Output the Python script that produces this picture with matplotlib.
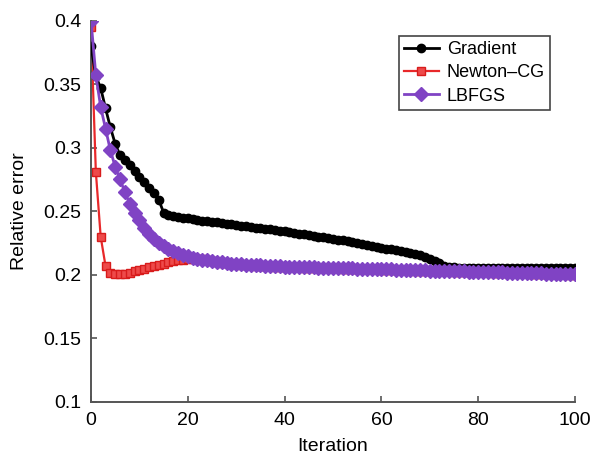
import numpy as np
import matplotlib
matplotlib.use("Agg")
import matplotlib.pyplot as plt

plt.rcParams["font.family"] = ["Liberation Sans", "DejaVu Sans"]

iterations = np.arange(0, 101)

gradient = [
    0.380, 0.356, 0.347, 0.331, 0.316, 0.303, 0.294, 0.290, 0.286, 0.282,
    0.277, 0.273, 0.268, 0.264, 0.259, 0.249, 0.247, 0.246, 0.2455, 0.245,
    0.2444, 0.2438, 0.2432, 0.2427, 0.2422, 0.2417, 0.2412, 0.2407, 0.2402, 0.2397,
    0.2392, 0.2387, 0.2382, 0.2377, 0.2372, 0.2367, 0.2362, 0.2357, 0.2352, 0.2347,
    0.2342, 0.2337, 0.2331, 0.2325, 0.2319, 0.2313, 0.2307, 0.2301, 0.2295, 0.2289,
    0.2283, 0.2277, 0.2270, 0.2263, 0.2256, 0.2249, 0.2242, 0.2235, 0.2228, 0.2221,
    0.2214, 0.2207, 0.2200, 0.2193, 0.2186, 0.2179, 0.2172, 0.2164, 0.2155, 0.2143,
    0.2128, 0.2110, 0.2090, 0.2072, 0.2062, 0.2058, 0.2057, 0.2057, 0.2056, 0.2056,
    0.2055, 0.2055, 0.2055, 0.2055, 0.2054, 0.2054, 0.2054, 0.2054, 0.2054, 0.2054,
    0.2054, 0.2053, 0.2053, 0.2053, 0.2053, 0.2053, 0.2053, 0.2053, 0.2053, 0.2053,
    0.2053,
]

newton_cg = [
    0.395, 0.281, 0.230, 0.207, 0.2012, 0.2005, 0.2005, 0.2010, 0.2018, 0.2027,
    0.2037, 0.2048, 0.2058, 0.2068, 0.2078, 0.2088, 0.2097, 0.2105, 0.2113, 0.2120,
    0.2125, 0.2127, 0.2126, 0.2122, 0.2116, 0.2110, 0.2102, 0.2096, 0.2091, 0.2087,
    0.2083, 0.2080, 0.2077, 0.2075, 0.2073, 0.2071, 0.2069, 0.2067, 0.2065, 0.2064,
    0.2062, 0.2061, 0.2060, 0.2059, 0.2057, 0.2056, 0.2055, 0.2054, 0.2053, 0.2052,
    0.2051, 0.2050, 0.2049, 0.2048, 0.2047, 0.2046, 0.2045, 0.2044, 0.2043, 0.2042,
    0.2041, 0.2040, 0.2039, 0.2038, 0.2037, 0.2036, 0.2035, 0.2034, 0.2033, 0.2032,
    0.2031, 0.2030, 0.2029, 0.2028, 0.2027, 0.2026, 0.2025, 0.2024, 0.2023, 0.2022,
    0.2021, 0.2020, 0.2019, 0.2018, 0.2017, 0.2016, 0.2015, 0.2014, 0.2013, 0.2012,
    0.2011, 0.2010, 0.2009, 0.2008, 0.2007, 0.2006, 0.2005, 0.2004, 0.2003, 0.2002,
    0.2001,
]

lbfgs = [
    0.400, 0.357, 0.332, 0.315, 0.298, 0.285, 0.275, 0.265, 0.256, 0.249,
    0.243, 0.237, 0.232, 0.228, 0.225, 0.2225, 0.2205, 0.2187, 0.2172, 0.2158,
    0.2146, 0.2136, 0.2128, 0.2120, 0.2113, 0.2107, 0.2102, 0.2097, 0.2093, 0.2089,
    0.2086, 0.2083, 0.2080, 0.2078, 0.2076, 0.2074, 0.2072, 0.2070, 0.2068, 0.2067,
    0.2065, 0.2064, 0.2063, 0.2062, 0.2060, 0.2059, 0.2058, 0.2057, 0.2056, 0.2055,
    0.2054, 0.2053, 0.2052, 0.2051, 0.2050, 0.2049, 0.2048, 0.2047, 0.2046, 0.2045,
    0.2044, 0.2043, 0.2042, 0.2041, 0.2040, 0.2039, 0.2038, 0.2037, 0.2036, 0.2035,
    0.2034, 0.2033, 0.2032, 0.2031, 0.2030, 0.2029, 0.2028, 0.2027, 0.2026, 0.2025,
    0.2024, 0.2023, 0.2022, 0.2021, 0.2020, 0.2019, 0.2018, 0.2017, 0.2016, 0.2015,
    0.2014, 0.2013, 0.2012, 0.2011, 0.2010, 0.2009, 0.2008, 0.2007, 0.2006, 0.2005,
    0.2004,
]

x_ticks = [0, 20, 40, 60, 80, 100]
y_ticks = [0.1, 0.15, 0.2, 0.25, 0.3, 0.35, 0.4]
y_tick_labels = ["0.1", "0.15", "0.2", "0.25", "0.3", "0.35", "0.4"]

fig = plt.figure(figsize=(5.93, 4.54), dpi=100)
ax = fig.add_axes([91 / 593, 1 - 402 / 454, 484 / 593, 381.5 / 454])

# --- Kurven (dichte Marker wie im Original) ---
ax.plot(iterations, gradient, "-o", color="black", lw=2.0, ms=6,
        label="Gradient", zorder=3)
ax.plot(iterations, newton_cg, "-s", color="#e8282a", mfc="#ee4a4a", mec="#d81c1c",
        lw=1.6, ms=6, mew=1.0, label="Newton\u2013CG", zorder=2)
ax.plot(iterations, lbfgs, "-D", color="#8043c4", lw=2.0, ms=7,
        label="LBFGS", zorder=4)

ax.set_xlim(0, 100)
ax.set_ylim(0.1, 0.4)
ax.set_xticks(x_ticks)
ax.set_yticks(y_ticks)
ax.set_yticklabels(y_tick_labels)

ax.spines["top"].set_visible(False)
ax.spines["right"].set_visible(False)
for s in ("left", "bottom"):
    ax.spines[s].set_color("#555555")
    ax.spines[s].set_linewidth(1.4)

ax.tick_params(direction="in", length=4, width=1.2, color="#555555",
               labelsize=14, pad=7)

ax.set_xlabel("Iteration", fontsize=14, labelpad=7)
ax.set_ylabel("Relative error", fontsize=14, labelpad=11)

leg = ax.legend(loc="upper left", bbox_to_anchor=(0.636, 0.960), borderaxespad=0,
                fontsize=13, handlelength=1.9, handletextpad=0.45,
                labelspacing=0.35, borderpad=0.3, fancybox=False,
                framealpha=1, edgecolor="#444444")
leg.get_frame().set_linewidth(1.2)

fig.savefig("out.png", dpi=100)
